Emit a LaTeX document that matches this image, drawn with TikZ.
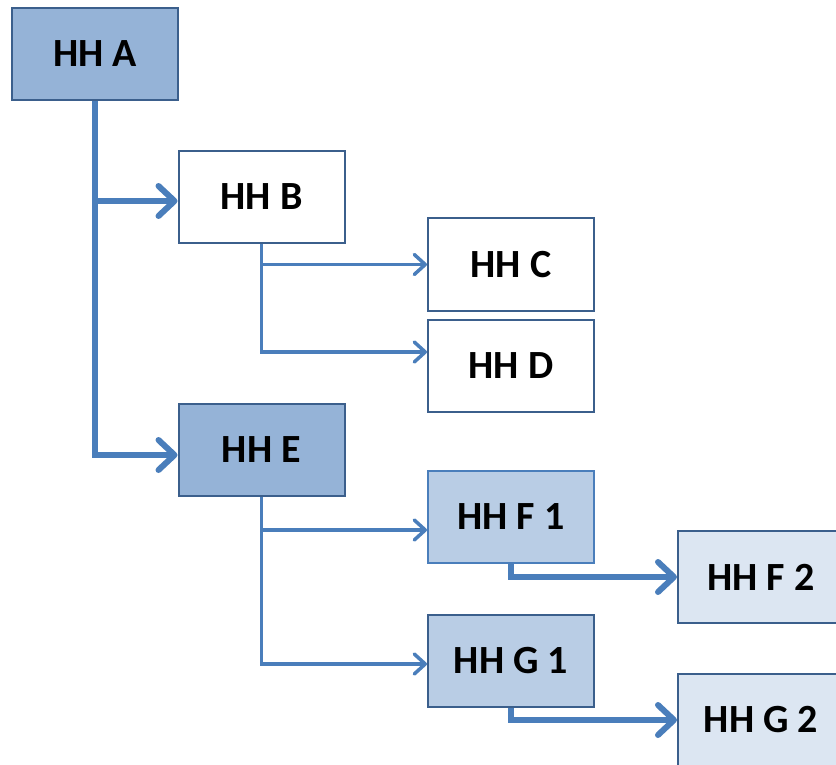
\documentclass[tikz,border=0pt]{standalone}
\usepackage{fontspec}
\setmainfont{Carlito}
\usetikzlibrary{arrows.meta}

\definecolor{hhdark}{HTML}{95B3D7}
\definecolor{hhmid}{HTML}{B9CDE5}
\definecolor{hhlight}{HTML}{DCE6F2}
\definecolor{hhedge}{HTML}{3B5F8C}
\definecolor{hhline}{HTML}{4A7EBB}

\tikzset{
  hhbox/.style={draw=hhedge, line width=2pt, rectangle, minimum width=166pt, minimum height=92pt,
    inner sep=0pt, font=\fontsize{40}{46}\selectfont\bfseries},
  thickarrow/.style={draw=hhline, line width=6pt,
    -{Straight Barb[length=16pt, width=30pt, round]}},
  thinarrow/.style={draw=hhline, line width=3.5pt,
    -{Straight Barb[length=11pt, width=20pt, round]}}
}

\begin{document}
\begin{tikzpicture}[x=1pt, y=-1pt]
\useasboundingbox (0,0) rectangle (836,765);
\clip (0,0) rectangle (836,765);
% boxes
\node[hhbox, fill=hhdark] (A) at (95,54) {HH A};
\node[hhbox, fill=white] (B) at (261.5,197) {HH B};
\node[hhbox, fill=white] (C) at (511,264.5) {HH C};
\node[hhbox, fill=white] (D) at (511,366) {HH D};
\node[hhbox, fill=hhdark] (E) at (261.5,450) {HH E};
\node[hhbox, fill=hhmid, draw=hhline] (F1) at (511,517) {HH F 1};
\node[hhbox, fill=hhlight] (F2) at (761,577) {HH F 2};
\node[hhbox, fill=hhmid] (G1) at (511,661) {HH G 1};
\node[hhbox, fill=hhlight] (G2) at (761,720) {HH G 2};
% connectors
\draw[thickarrow] (A.south) |- ([yshift=-4pt]B.west);
\draw[thickarrow] (A.south) |- ([yshift=-5pt]E.west);
\draw[thinarrow] (B.south) |- (C.west);
\draw[thinarrow] (B.south) |- ([yshift=14pt]D.west);
\draw[thinarrow] (E.south) |- ([yshift=-13pt]F1.west);
\draw[thinarrow] (E.south) |- ([yshift=-3pt]G1.west);
\draw[thickarrow] (F1.south) |- (F2.west);
\draw[thickarrow] (G1.south) |- (G2.west);
\end{tikzpicture}
\end{document}
